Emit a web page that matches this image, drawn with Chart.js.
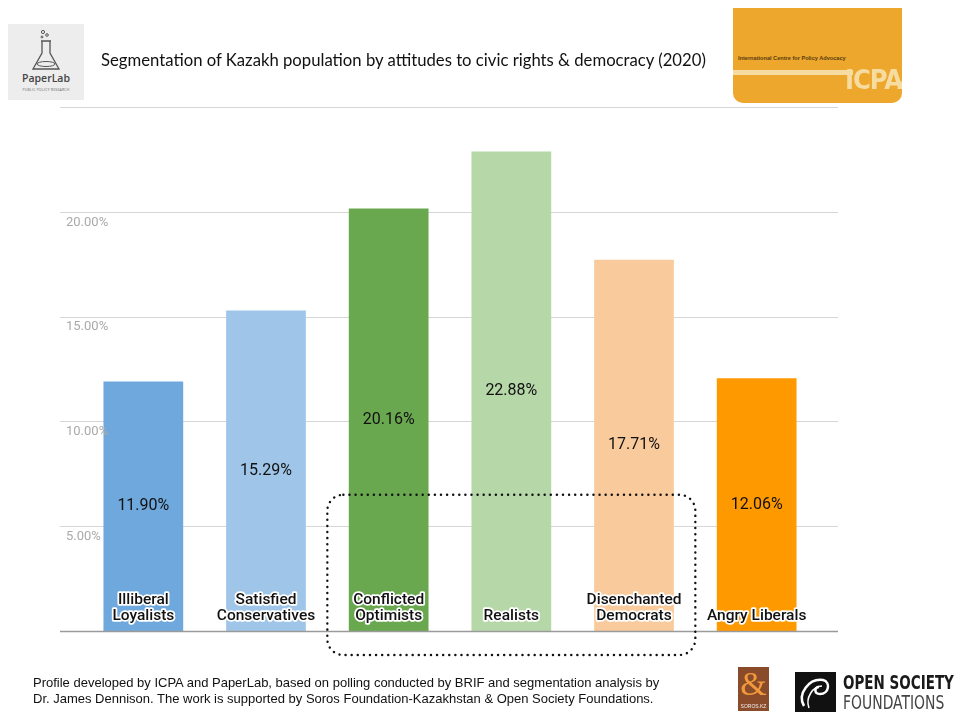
<!DOCTYPE html>
<html>
<head>
<meta charset="utf-8">
<script src="https://cdn.jsdelivr.net/npm/chart.js@4.4.1/dist/chart.umd.min.js"></script>
<style>
  body { margin: 0; background: #fff; }
  #page { position: relative; width: 956px; height: 714px; overflow: hidden; background: #fff; }
  #chart { position: absolute; left: 0; top: 0; }
  .title { position: absolute; left: 101px; top: 50px; font: 16.7px Lato, sans-serif; color: #111; white-space: nowrap; }
  .paperlab { position: absolute; left: 8px; top: 24px; width: 76px; height: 76px; background: #ededed; text-align: center; font-family: "Open Sans", sans-serif; }
  .paperlab .name { position: absolute; left: 0; width: 76px; top: 47px; font-size: 10.5px; font-weight: 600; color: #444; }
  .paperlab .sub { position: absolute; left: 0; width: 76px; top: 63px; font-size: 3.5px; color: #666; letter-spacing: 0.2px; }
  .icpa { position: absolute; left: 733px; top: 8px; width: 169px; height: 95px; background: #eca72c; border-radius: 0 0 10px 10px; overflow: hidden; font-family: "Liberation Sans", sans-serif; }
  .icpa .full { position: absolute; left: 5px; top: 47px; font-size: 5.6px; color: #5a3c10; font-weight: bold; white-space: nowrap; }
  .icpa .bar { position: absolute; left: 0; top: 62px; width: 120px; height: 5px; background: #f6dca0; }
  .icpa .logo { position: absolute; left: 112px; top: 56px; font: bold 27px "DejaVu Sans Condensed", sans-serif; color: #f6dca0; letter-spacing: -1px; }
  .footer { position: absolute; left: 33px; top: 675px; font: 13px "Liberation Sans", Arial, sans-serif; line-height: 15.5px; color: #111; white-space: nowrap; }
  .soros { position: absolute; left: 738px; top: 667px; width: 31px; height: 44px; background: #8a4b2a; text-align: center; font-family: "Liberation Serif", serif; }
  .soros .s { position: absolute; left: 0; width: 31px; top: -2px; font-size: 34px; color: #f29a3b; }
  .soros .kz { position: absolute; left: 0; width: 31px; top: 36px; font: 5px "Liberation Sans", sans-serif; color: #eee; }
  .osf-box { position: absolute; left: 795px; top: 672px; width: 41px; height: 40px; background: #111; }
  .osf-t1 { position: absolute; left: 843px; top: 671px; font: bold 15px "DejaVu Sans Condensed", sans-serif; color: #1a1a1a; white-space: nowrap; transform: scaleY(1.25); transform-origin: 0 0; }
  .osf-t2 { position: absolute; left: 843px; top: 691px; font: 15.5px "DejaVu Sans Condensed", sans-serif; color: #444; white-space: nowrap; transform: scaleY(1.3); transform-origin: 0 0; }
</style>
</head>
<body>
<div id="page">
  <canvas id="chart" width="956" height="714"></canvas>

  <div class="paperlab">
    <svg width="76" height="48" style="position:absolute;left:0;top:2px">
      <circle cx="35" cy="6" r="1.6" fill="none" stroke="#555" stroke-width="1"/>
      <circle cx="39" cy="9" r="1.3" fill="none" stroke="#555" stroke-width="1"/>
      <circle cx="34" cy="11" r="1" fill="none" stroke="#555" stroke-width="1"/>
      <path d="M33 15 L43 15 M34 15 L34 27 L25 43 L51 43 L42 27 L42 15" fill="none" stroke="#555" stroke-width="1.3"/>
      <ellipse cx="38" cy="38" rx="9" ry="2.5" fill="none" stroke="#555" stroke-width="1"/>
    </svg>
    <div class="name">PaperLab</div>
    <div class="sub">PUBLIC POLICY RESEARCH</div>
  </div>

  <div class="title">Segmentation of Kazakh population by attitudes to civic rights &amp; democracy (2020)</div>

  <div class="icpa">
    <div class="full">International Centre for Policy Advocacy</div>
    <div class="bar"></div>
    <div class="logo">ICPA⁄</div>
  </div>

  <div class="footer">Profile developed by ICPA and PaperLab, based on polling conducted by BRIF and segmentation analysis by<br>Dr. James Dennison. The work is supported by Soros Foundation-Kazakhstan &amp; Open Society Foundations.</div>

  <div class="soros"><div class="s">&amp;</div><div class="kz">SOROS.KZ</div></div>
  <div class="osf-box">
    <svg width="41" height="40">
      <path d="M9 34 C 2 22, 14 6, 28 8 C 36 10, 34 22, 25 22 C 19 22, 19 15, 24 15" fill="none" stroke="#fff" stroke-width="2.5"/>
      <path d="M14 36 C 10 26, 18 14, 27 14" fill="none" stroke="#fff" stroke-width="1.5"/>
    </svg>
  </div>
  <div class="osf-t1">OPEN SOCIETY</div>
  <div class="osf-t2">FOUNDATIONS</div>
</div>

<script>
// segments and their share of population (%)
var categories = [
    ['Illiberal', 'Loyalists'],
    ['Satisfied', 'Conservatives'],
    ['Conflicted', 'Optimists'],
    ['Realists'],
    ['Disenchanted', 'Democrats'],
    ['Angry Liberals']
];
var shares = [11.90, 15.29, 20.16, 22.88, 17.71, 12.06];
var barColors = ['#6fa8dc', '#9fc5e8', '#6aa84f', '#b6d7a8', '#f9cb9c', '#ff9900'];
var yTicks = [0, 5, 10, 15, 20, 25];
var yTickLabels = ['', '5.00%', '10.00%', '15.00%', '20.00%', ''];

// grid, labels and the dotted highlight box
var decorations = {
    id: 'decorations',
    beforeDatasetsDraw: function (chart) {
        var ctx = chart.ctx;
        var y = chart.scales.y;
        ctx.save();
        ctx.strokeStyle = '#d6d6d6';
        ctx.lineWidth = 1;
        yTicks.forEach(function (v) {
            if (v === 0) return;
            var py = Math.round(y.getPixelForValue(v)) + 0.5;
            ctx.beginPath();
            ctx.moveTo(60, py);
            ctx.lineTo(838, py);
            ctx.stroke();
        });
        ctx.restore();
    },
    afterDatasetsDraw: function (chart) {
        var ctx = chart.ctx;
        var x = chart.scales.x;
        var y = chart.scales.y;
        var bars = chart.getDatasetMeta(0).data;
        var axisY = y.getPixelForValue(0);
        ctx.save();

        // axis line
        ctx.strokeStyle = '#9a9a9a';
        ctx.lineWidth = 1.5;
        ctx.beginPath();
        ctx.moveTo(60, axisY + 0.5);
        ctx.lineTo(838, axisY + 0.5);
        ctx.stroke();

        // y tick labels
        ctx.font = '13px Roboto';
        ctx.fillStyle = '#aaaaaa';
        ctx.textAlign = 'left';
        ctx.textBaseline = 'top';
        yTicks.forEach(function (v, i) {
            if (!yTickLabels[i]) return;
            ctx.fillText(yTickLabels[i], 66, y.getPixelForValue(v) + 4);
        });

        // values in the middle of each bar
        ctx.font = '16px Roboto';
        ctx.fillStyle = '#111';
        ctx.textAlign = 'center';
        ctx.textBaseline = 'middle';
        bars.forEach(function (bar, i) {
            ctx.fillText(shares[i].toFixed(2) + '%', bar.x, (bar.y + bar.base) / 2);
        });

        // category names at the foot of the bars, outlined in white
        ctx.font = '500 15.5px Roboto';
        ctx.textBaseline = 'alphabetic';
        ctx.lineJoin = 'round';
        ctx.lineWidth = 3.5;
        ctx.strokeStyle = '#fff';
        categories.forEach(function (lines, i) {
            var cx = x.getPixelForValue(i);
            lines.forEach(function (line, j) {
                var ly = axisY - 11 - (lines.length - 1 - j) * 16;
                ctx.strokeText(line, cx, ly);
                ctx.fillText(line, cx, ly);
            });
        });

        // dotted rounded box around Conflicted .. Disenchanted
        var half = (x.getPixelForValue(1) - x.getPixelForValue(0)) / 2;
        var left = x.getPixelForValue(2) - half;
        var right = x.getPixelForValue(4) + half;
        var top = y.getPixelForValue(6.5);
        var bottom = axisY + 24;
        ctx.strokeStyle = '#111';
        ctx.lineWidth = 2.4;
        ctx.lineCap = 'round';
        ctx.setLineDash([0.1, 6]);
        ctx.beginPath();
        ctx.roundRect(left, top, right - left, bottom - top, 16);
        ctx.stroke();

        ctx.restore();
    }
};

var ctx = document.getElementById('chart').getContext('2d');
var segmentsChart = new Chart(ctx, {
    type: 'bar',
    data: {
        labels: categories,
        datasets: [{
            data: shares,
            backgroundColor: barColors,
            borderWidth: 0,
            barPercentage: 0.65,
            categoryPercentage: 1
        }]
    },
    options: {
        responsive: false,
        animation: false,
        layout: {
            padding: { left: 82, right: 138, top: 107, bottom: 83 }
        },
        scales: {
            x: { display: false },
            y: { display: false, min: 0, max: 25 }
        },
        plugins: {
            legend: { display: false },
            tooltip: { enabled: false }
        }
    },
    plugins: [decorations]
});
</script>
</body>
</html>
